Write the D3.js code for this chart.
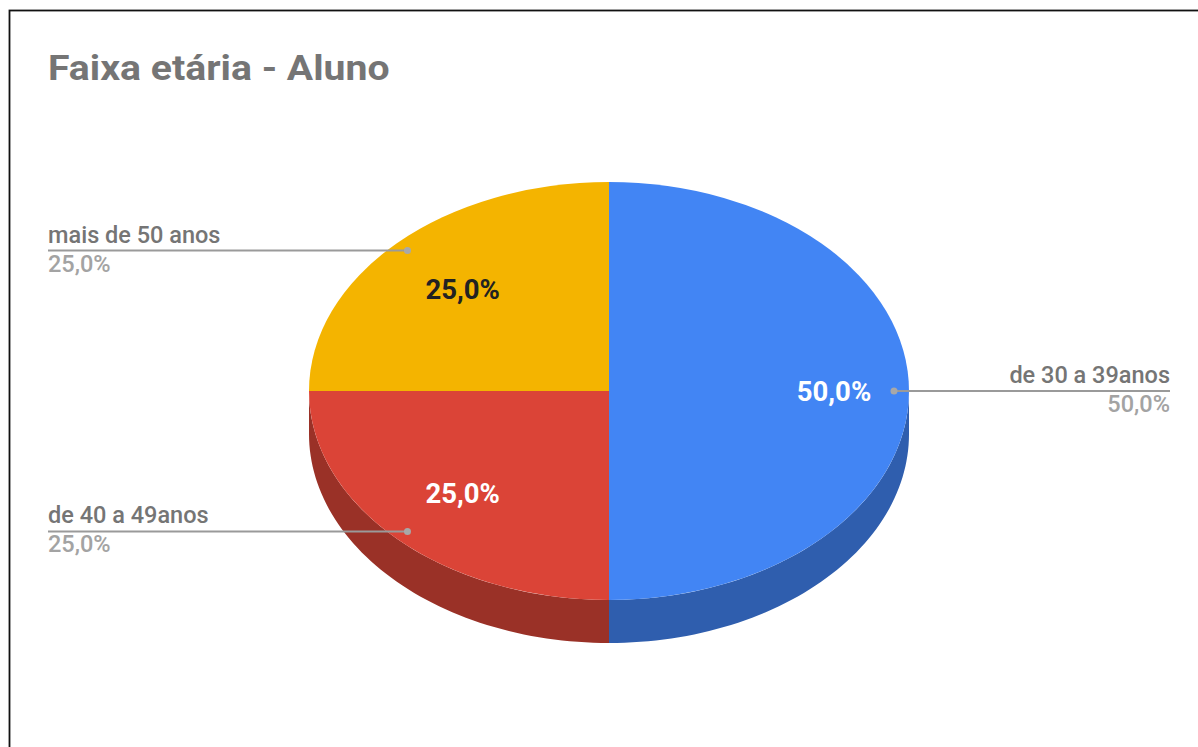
<!DOCTYPE html>
<html>
<head>
<meta charset="utf-8">
<script src="https://cdn.jsdelivr.net/npm/d3@7"></script>
<style>
  body { margin: 0; background: #fff; }
  svg { display: block; }
</style>
</head>
<body>
<div id="chart"></div>
<script>
var width = 1198;
var height = 747;

var title = "Faixa etária - Aluno";
var categories = ["de 30 a 39anos", "de 40 a 49anos", "mais de 50 anos"];
var values = [50, 25, 25];
var colors = ["#4285f4", "#db4437", "#f4b400"];
var sideColors = ["#2f5eae", "#9a3127", "#b08300"];
var innerTextColors = ["#fff", "#fff", "#222"];

var cx = 609, cy = 391, rx = 300, ry = 209, depth = 43;

var format = function(v) { return d3.format(".1f")(v).replace(".", ",") + "%"; };

var svg = d3.select("#chart")
    .append("svg")
    .attr("width", width)
    .attr("height", height)
    .attr("font-family", "Roboto, sans-serif");

// frame
svg.append("rect")
    .attr("x", 9.5).attr("y", 10.5)
    .attr("width", 1300).attr("height", 900)
    .attr("fill", "#fff")
    .attr("stroke", "#111").attr("stroke-width", 1.8);

svg.append("text")
    .attr("transform", "translate(48,80) scale(1.12,1)")
    .attr("font-size", 35).attr("font-weight", "bold")
    .attr("fill", "#757575")
    .text(title);

var total = d3.sum(values);
var pie = d3.pie().sort(null).value(function(d) { return d; });
var arcs = pie(values);

// point on the top ellipse
function pt(a, k) {
  return [cx + rx * k * Math.sin(a), cy - ry * k * Math.cos(a)];
}

var g = svg.append("g");

// sides (only the front half, angles between PI/2 and 3PI/2)
arcs.forEach(function(d, i) {
  var a0 = Math.max(d.startAngle, Math.PI / 2);
  var a1 = Math.min(d.endAngle, 3 * Math.PI / 2);
  if (a1 <= a0) return;
  var n = 60;
  var angs = d3.range(n + 1).map(function(j) { return a0 + (a1 - a0) * j / n; });
  var top = angs.map(function(a) { return pt(a, 1); });
  var bottom = angs.slice().reverse().map(function(a) { var p = pt(a, 1); return [p[0], p[1] + depth]; });
  g.append("path")
      .attr("d", d3.line()(top.concat(bottom)) + "Z")
      .attr("fill", sideColors[i]);
});

// top faces
var arc = d3.arc().innerRadius(0).outerRadius(rx);
g.selectAll(".slice")
  .data(arcs)
  .enter().append("path")
    .attr("class", "slice")
    .attr("transform", "translate(" + cx + "," + cy + ") scale(1," + (ry / rx) + ")")
    .attr("d", arc)
    .attr("fill", function(d, i) { return colors[i]; });

// inner labels
function innerPos(d) {
  return pt((d.startAngle + d.endAngle) / 2, d.data >= 50 ? 0.75 : 0.69);
}
g.selectAll(".inner")
  .data(arcs)
  .enter().append("text")
    .attr("class", "inner")
    .attr("x", function(d) { return innerPos(d)[0]; })
    .attr("y", function(d) { return innerPos(d)[1] + 10; })
    .attr("text-anchor", "middle")
    .attr("font-size", 27.5).attr("font-weight", "bold")
    .attr("fill", function(d, i) { return innerTextColors[i]; })
    .text(function(d) { return format(d.data / total * 100); });

// outer labels with leader lines
arcs.forEach(function(d, i) {
  var mid = (d.startAngle + d.endAngle) / 2;
  var p = pt(mid, 0.95);
  var right = Math.sin(mid) > 0;
  var xEnd = right ? 1170 : 48;
  svg.append("line")
      .attr("x1", p[0]).attr("y1", p[1])
      .attr("x2", xEnd).attr("y2", p[1])
      .attr("stroke", "#9a9a9a").attr("stroke-width", 2);
  svg.append("circle")
      .attr("cx", p[0]).attr("cy", p[1]).attr("r", 3.5)
      .attr("fill", "#a8a8a8");
  svg.append("text")
      .attr("x", xEnd).attr("y", p[1] - 8)
      .attr("text-anchor", right ? "end" : "start")
      .attr("font-size", 23.5).attr("font-weight", 500)
      .attr("fill", "#757575")
      .text(categories[i]);
  svg.append("text")
      .attr("x", xEnd).attr("y", p[1] + 21)
      .attr("text-anchor", right ? "end" : "start")
      .attr("font-size", 23.5).attr("font-weight", 500)
      .attr("fill", "#a3a3a3")
      .text(format(d.data / total * 100));
});
</script>
</body>
</html>
